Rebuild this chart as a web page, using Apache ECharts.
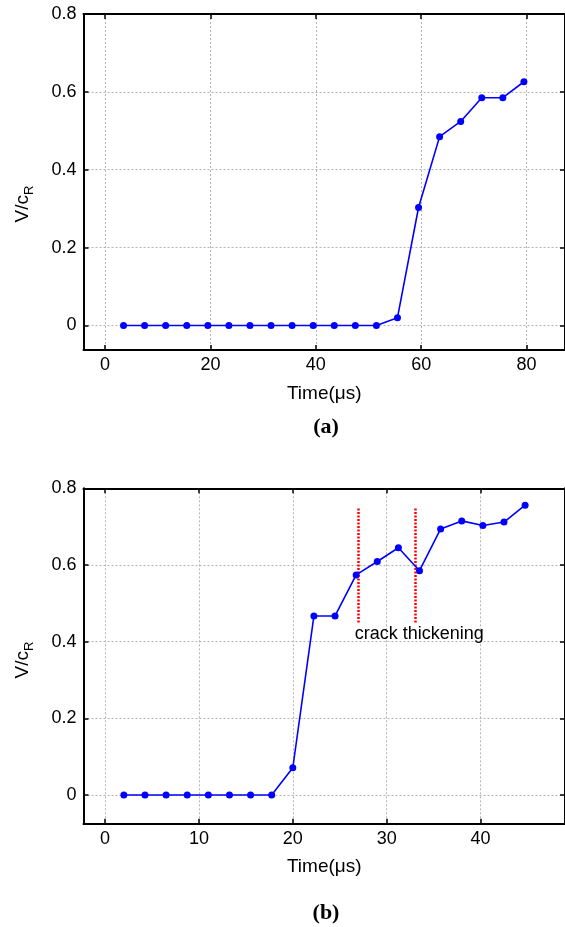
<!DOCTYPE html>
<html>
<head>
<meta charset="utf-8">
<script src="https://cdn.jsdelivr.net/npm/echarts@6/dist/echarts.min.js"></script>
<style>
html,body{margin:0;padding:0;background:#fff;}
#chart{width:565px;height:927px;}
</style>
</head>
<body>
<div id="chart"></div>
<script>
// ---- data ----
var timeA = [3.5, 7.5, 11.5, 15.5, 19.5, 23.5, 27.5, 31.5, 35.5, 39.5, 43.5, 47.5, 51.5, 55.5, 59.5, 63.5, 67.5, 71.5, 75.5, 79.5];
var speedA = [0, 0, 0, 0, 0, 0, 0, 0, 0, 0, 0, 0, 0, 0.02, 0.303, 0.485, 0.524, 0.585, 0.585, 0.626];
var timeB = [2, 4.25, 6.5, 8.75, 11, 13.25, 15.5, 17.75, 20, 22.25, 24.5, 26.75, 29, 31.25, 33.5, 35.75, 38, 40.25, 42.5, 44.75];
var speedB = [0, 0, 0, 0, 0, 0, 0, 0, 0.071, 0.467, 0.467, 0.574, 0.609, 0.645, 0.585, 0.694, 0.715, 0.703, 0.712, 0.756];
var crackLinesX = [26.95, 33.0];
var crackLinesY = [0.45, 0.75];
var crackLabel = 'crack thickening';
var crackLabelPos = [26.6, 0.42];
var xRangeA = [-4.1, 87.3];
var xRangeB = [-2.3, 49.0];
var yRangeA = [-0.063, 0.8];
var yRangeB = [-0.075, 0.8];
var xTitle = 'Time(\u03bcs)';
var panelLabels = ['(a)', '(b)'];

function zip(xs, ys) { return xs.map(function (x, i) { return [x, ys[i]]; }); }

var FONT = '"Liberation Sans", Arial, sans-serif';
var gridStyle = { show: true, lineStyle: { color: '#b4b4b4', width: 1, type: [2, 2] } };
var axisLineStyle = { show: true, onZero: false, lineStyle: { color: '#000', width: 2 } };
var tickStyle = { show: true, inside: true, length: 5, lineStyle: { color: '#000', width: 1.5 } };

function mainX(gi, range, withName) {
  return {
    type: 'value', gridIndex: gi, min: range[0], max: range[1], position: 'bottom',
    axisLine: axisLineStyle, axisTick: tickStyle, splitLine: gridStyle,
    axisLabel: { show: true, color: '#000', fontSize: 18, fontFamily: FONT, margin: 6, showMinLabel: false, showMaxLabel: false },
    name: xTitle, nameLocation: 'middle', nameGap: 34,
    nameTextStyle: { color: '#000', fontSize: 19, fontFamily: FONT, verticalAlign: 'top' }
  };
}
function topX(gi, range) {
  return {
    type: 'value', gridIndex: gi, min: range[0], max: range[1], position: 'top',
    axisLine: axisLineStyle, axisTick: tickStyle, splitLine: { show: false },
    axisLabel: { show: false }
  };
}
function mainY(gi, range) {
  return {
    type: 'value', gridIndex: gi, min: range[0], max: range[1], position: 'left',
    axisLine: axisLineStyle, axisTick: tickStyle, splitLine: gridStyle,
    axisLabel: { show: true, color: '#000', fontSize: 18, fontFamily: FONT, margin: 7, showMinLabel: false, showMaxLabel: true }
  };
}
function rightY(gi, range) {
  return {
    type: 'value', gridIndex: gi, min: range[0], max: range[1], position: 'right',
    axisLine: axisLineStyle, axisTick: tickStyle, splitLine: { show: false },
    axisLabel: { show: false }
  };
}

var lineSeries = function (xi, yi, data) {
  return {
    type: 'line', xAxisIndex: xi, yAxisIndex: yi, data: data,
    symbol: 'circle', symbolSize: 7, showSymbol: true,
    lineStyle: { color: '#0000ff', width: 1.6 },
    itemStyle: { color: '#0000ff' },
    silent: true, animation: false, z: 5
  };
};

var seriesB = lineSeries(2, 2, zip(timeB, speedB));
seriesB.markLine = {
  silent: true, symbol: ['none', 'none'], animation: false,
  label: { show: false },
  lineStyle: { color: '#ff0000', width: 2.5, type: [2, 1.5] },
  data: crackLinesX.map(function (x) {
    return [{ coord: [x, crackLinesY[0]] }, { coord: [x, crackLinesY[1]] }];
  })
};
seriesB.markPoint = {
  silent: true, animation: false,
  data: [{
    coord: crackLabelPos, symbol: 'circle', symbolSize: 0,
    itemStyle: { color: 'transparent' },
    label: { show: true, formatter: crackLabel, position: 'right', distance: 0,
      color: '#000', fontSize: 18, fontFamily: FONT }
  }]
};

function yTitle(cx, cy) {
  return {
    type: 'text', x: cx, y: cy, rotation: Math.PI / 2, silent: true,
    style: {
      text: 'V/c{sub|R}', fill: '#000', fontSize: 19, fontFamily: FONT,
      align: 'center', verticalAlign: 'middle', lineHeight: 26,
      rich: { sub: { fontSize: 13, fontFamily: FONT, fill: '#000', verticalAlign: 'bottom', lineHeight: 14 } }
    }
  };
}
function panelText(t, cx, cy) {
  return {
    type: 'text', x: cx, y: cy, silent: true,
    style: { text: t, fill: '#000', fontSize: 22, fontWeight: 'bold',
      fontFamily: '"Liberation Serif", "Times New Roman", serif', align: 'center', verticalAlign: 'middle' }
  };
}

var option = {
  backgroundColor: '#fff',
  animation: false,
  grid: [
    { left: 83.5, top: 14, width: 484.5, height: 336, containLabel: false },
    { left: 83.5, top: 488.3, width: 484.5, height: 335.4, containLabel: false }
  ],
  xAxis: [mainX(0, xRangeA), topX(0, xRangeA), mainX(1, xRangeB), topX(1, xRangeB)],
  yAxis: [mainY(0, yRangeA), rightY(0, yRangeA), mainY(1, yRangeB), rightY(1, yRangeB)],
  series: [lineSeries(0, 0, zip(timeA, speedA)), seriesB],
  graphic: [
    yTitle(23, 204), yTitle(23, 660),
    panelText(panelLabels[0], 326, 427), panelText(panelLabels[1], 326, 913)
  ]
};

var chart = echarts.init(document.getElementById('chart'), null, { renderer: 'canvas' });
chart.setOption(option);
</script>
</body>
</html>
